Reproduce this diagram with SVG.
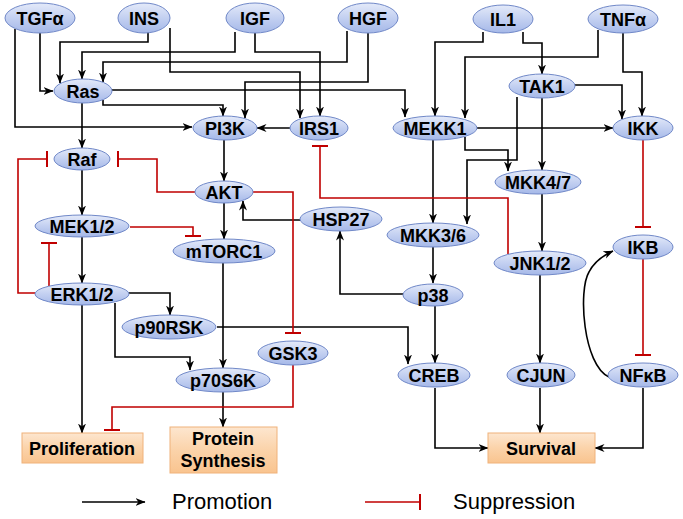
<svg xmlns="http://www.w3.org/2000/svg" width="683" height="519" viewBox="0 0 683 519">
<defs>
<linearGradient id="gb" x1="0" y1="0" x2="0" y2="1">
<stop offset="0" stop-color="#e4eaf9"/>
<stop offset="0.5" stop-color="#c3d0f1"/>
<stop offset="1" stop-color="#a5b8e8"/>
</linearGradient>
<linearGradient id="go" x1="0" y1="0" x2="0" y2="1">
<stop offset="0" stop-color="#fde6cf"/>
<stop offset="0.5" stop-color="#fbd3aa"/>
<stop offset="1" stop-color="#f9c48f"/>
</linearGradient>
<marker id="arr" viewBox="0 0 10 10" refX="9.5" refY="5" markerWidth="10" markerHeight="10" markerUnits="userSpaceOnUse" orient="auto">
<path d="M0,1 L10,5 L0,9 L3,5 z" fill="#000"/>
</marker>
<marker id="tee" viewBox="0 0 4 16" refX="2" refY="8" markerWidth="4" markerHeight="16" markerUnits="userSpaceOnUse" orient="auto">
<line x1="2" y1="0" x2="2" y2="16" stroke="#c00000" stroke-width="2"/>
</marker>
</defs>
<style>
.n ellipse{fill:url(#gb);stroke:#7088c8;stroke-width:1}
.n text,.b text{font-family:"Liberation Sans",Arial,sans-serif;font-weight:bold;font-size:18px;text-anchor:middle;fill:#000}
.b rect{fill:url(#go);stroke:#f0b27a;stroke-width:1}
.p{fill:none;stroke:#000;stroke-width:1.6;marker-end:url(#arr)}
.s{fill:none;stroke:#c00000;stroke-width:1.6;marker-end:url(#tee)}
.lg{font-family:"Liberation Sans",Arial,sans-serif;font-size:22px;fill:#000}
</style>
<rect width="683" height="519" fill="#fff"/>

<g id="connectors">
<path class="p" d="M15,29 V127 H192"/>
<path class="p" d="M40,33 V91 H53"/>
<path class="p" d="M148,32 V42 H60 V83"/>
<path class="p" d="M235,32 V52 H82 V79"/>
<path class="p" d="M347,31 V62 H103 V82"/>
<path class="p" d="M170,28 V72 H300 V118"/>
<path class="p" d="M255,33 V52 H320 V116"/>
<path class="p" d="M368,33 V82 H245 V118"/>
<path class="p" d="M103,100 V105 H223 V116"/>
<path class="p" d="M112,90 H405 V117"/>
<path class="p" d="M290,128 H257"/>
<path class="p" d="M483,32 V42 H435 V116"/>
<path class="p" d="M523,32 V43 H542 V74"/>
<path class="p" d="M598,30 V57 H465 V118"/>
<path class="p" d="M623,33 V72 H642 V116"/>
<path class="p" d="M575,85 H622 V119"/>
<path class="p" d="M477,128 H613"/>
<path class="p" d="M433,140 V223"/>
<path class="p" d="M465,137 V150 H508 V171"/>
<path class="p" d="M517,97 V160 H467 V224"/>
<path class="p" d="M542,98 V170"/>
<path class="p" d="M542,194 V251"/>
<path class="p" d="M433,247 V283"/>
<path class="p" d="M403,294 H340 V231"/>
<path class="p" d="M300,220 H243 V201"/>
<path class="p" d="M82,103 V148"/>
<path class="p" d="M82,170 V215"/>
<path class="p" d="M82,237 V283"/>
<path class="p" d="M224,140 V181"/>
<path class="p" d="M224,203 V239"/>
<path class="p" d="M223,263 V368"/>
<path class="p" d="M128,293 H170 V315"/>
<path class="p" d="M115,303 V357 H190 V370"/>
<path class="p" d="M217,327 H408 V364"/>
<path class="p" d="M435,305 V363"/>
<path class="p" d="M540,275 V363"/>
<path class="p" d="M82,305 V433"/>
<path class="p" d="M223,392 V427"/>
<path class="p" d="M435,388 V448 H488"/>
<path class="p" d="M540,388 V433"/>
<path class="p" d="M643,388 V448 H595"/>
<path class="p" d="M609,377 C583,365 578,290 589,272 C594,262 602,256 613,251"/>
<path class="s" d="M195,192 H157 V159 H118"/>
<path class="s" d="M35,293 H18 V159 H47"/>
<path class="s" d="M49,286 V243"/>
<path class="s" d="M130,227 H193 V236"/>
<path class="s" d="M253,192 H293 V333"/>
<path class="s" d="M508,254 V198 H320 V146"/>
<path class="s" d="M643,140 V227"/>
<path class="s" d="M643,259 V355"/>
<path class="s" d="M293,365 V407 H112 V430"/>
</g>

<g id="TGFa" class="n"><ellipse cx="40" cy="18" rx="35" ry="15"/><text x="40" y="24.5">TGFα</text></g>
<g id="INS" class="n"><ellipse cx="144" cy="18" rx="26" ry="15"/><text x="144" y="24.5">INS</text></g>
<g id="IGF" class="n"><ellipse cx="255" cy="18" rx="29" ry="15"/><text x="255" y="24.5">IGF</text></g>
<g id="HGF" class="n"><ellipse cx="368" cy="18" rx="30" ry="15"/><text x="368" y="24.5">HGF</text></g>
<g id="IL1" class="n"><ellipse cx="503" cy="19" rx="30" ry="14"/><text x="503" y="25.5">IL1</text></g>
<g id="TNFa" class="n"><ellipse cx="623" cy="19" rx="35" ry="14"/><text x="623" y="25.5">TNFα</text></g>
<g id="Ras" class="n"><ellipse cx="83" cy="91" rx="29" ry="12"/><text x="83" y="97.5">Ras</text></g>
<g id="TAK1" class="n"><ellipse cx="542" cy="86" rx="33" ry="12"/><text x="542" y="92.5">TAK1</text></g>
<g id="PI3K" class="n"><ellipse cx="225" cy="128" rx="32" ry="12"/><text x="225" y="134.5">PI3K</text></g>
<g id="IRS1" class="n"><ellipse cx="319" cy="128" rx="29" ry="12"/><text x="319" y="134.5">IRS1</text></g>
<g id="MEKK1" class="n"><ellipse cx="435" cy="128" rx="42" ry="12"/><text x="435" y="134.5">MEKK1</text></g>
<g id="IKK" class="n"><ellipse cx="643" cy="128" rx="30" ry="12"/><text x="643" y="134.5">IKK</text></g>
<g id="Raf" class="n"><ellipse cx="82" cy="159" rx="28" ry="11"/><text x="82" y="165.5">Raf</text></g>
<g id="MKK47" class="n"><ellipse cx="538" cy="182" rx="43" ry="12"/><text x="538" y="188.5">MKK4/7</text></g>
<g id="AKT" class="n"><ellipse cx="224" cy="192" rx="29" ry="11"/><text x="224" y="198.5">AKT</text></g>
<g id="HSP27" class="n"><ellipse cx="341" cy="219" rx="41" ry="12"/><text x="341" y="225.5">HSP27</text></g>
<g id="MEK12" class="n"><ellipse cx="82" cy="226" rx="47" ry="11"/><text x="82" y="232.5">MEK1/2</text></g>
<g id="MKK36" class="n"><ellipse cx="433" cy="235" rx="46" ry="12"/><text x="433" y="241.5">MKK3/6</text></g>
<g id="IKB" class="n"><ellipse cx="643" cy="247" rx="30" ry="12"/><text x="643" y="253.5">IKB</text></g>
<g id="mTORC1" class="n"><ellipse cx="224" cy="251" rx="51" ry="12"/><text x="224" y="257.5">mTORC1</text></g>
<g id="JNK12" class="n"><ellipse cx="540" cy="263" rx="46" ry="12"/><text x="540" y="269.5">JNK1/2</text></g>
<g id="ERK12" class="n"><ellipse cx="82" cy="294" rx="47" ry="11"/><text x="82" y="300.5">ERK1/2</text></g>
<g id="p38" class="n"><ellipse cx="433" cy="295" rx="30" ry="11"/><text x="433" y="301.5">p38</text></g>
<g id="p90RSK" class="n"><ellipse cx="169" cy="327" rx="47" ry="12"/><text x="169" y="333.5">p90RSK</text></g>
<g id="GSK3" class="n"><ellipse cx="293" cy="353" rx="35" ry="12"/><text x="293" y="359.5">GSK3</text></g>
<g id="p70S6K" class="n"><ellipse cx="223" cy="380" rx="47" ry="12"/><text x="223" y="386.5">p70S6K</text></g>
<g id="CREB" class="n"><ellipse cx="434" cy="375" rx="36" ry="12"/><text x="434" y="381.5">CREB</text></g>
<g id="CJUN" class="n"><ellipse cx="541" cy="375" rx="34" ry="12"/><text x="541" y="381.5">CJUN</text></g>
<g id="NFkB" class="n"><ellipse cx="643" cy="375" rx="35" ry="12"/><text x="643" y="381.5">NFκB</text></g>

<g id="Proliferation" class="b"><rect x="22" y="433" width="121" height="30"/><text x="82" y="454.5">Proliferation</text></g>
<g id="ProteinSynthesis" class="b"><rect x="170" y="427" width="107" height="46"/><text x="223" y="445">Protein</text><text x="223" y="467">Synthesis</text></g>
<g id="Survival" class="b"><rect x="488" y="433" width="107" height="30"/><text x="541" y="454.5">Survival</text></g>

<g id="legend">
<path class="p" d="M82,502 H145"/>
<text class="lg" x="172" y="509">Promotion</text>
<path class="s" d="M365,502 H420"/>
<text class="lg" x="453" y="509">Suppression</text>
</g>
</svg>
